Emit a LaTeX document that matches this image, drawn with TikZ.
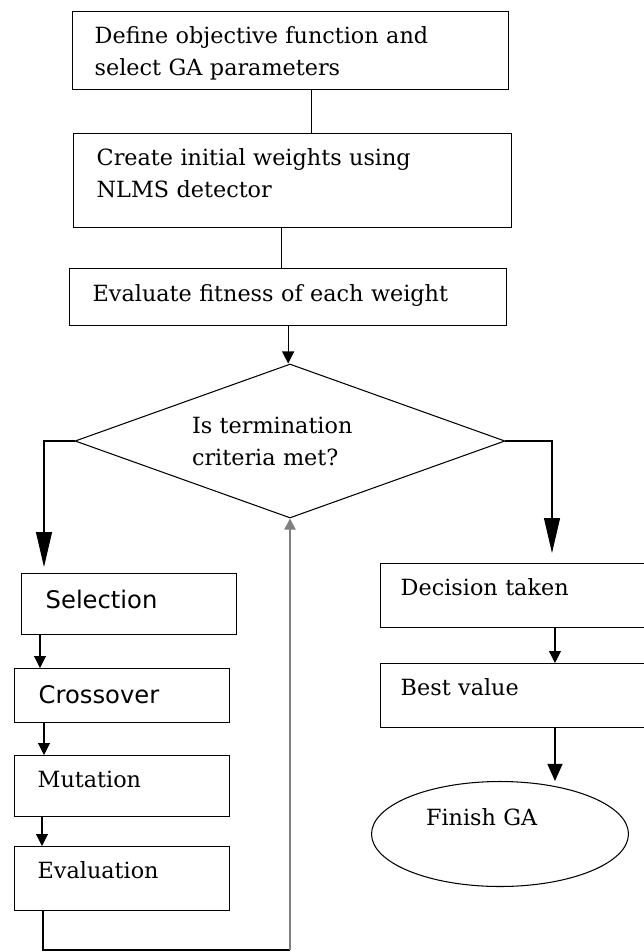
\documentclass[tikz,border=0pt]{standalone}
\usepackage{fontspec}
\setmainfont{DejaVu Serif}
\setsansfont{DejaVu Sans}
\usetikzlibrary{arrows.meta, shapes.geometric}

\begin{document}
\begin{tikzpicture}[x=0.02cm, y=-0.02cm]
	\tikzstyle{box}=[draw, line width=0.8pt, anchor=north west, inner ysep=0pt, align=left, font=\fontsize{12.7pt}{18.2pt}\selectfont]
	\tikzstyle{sbox}=[box, font=\sffamily\fontsize{13.8pt}{18pt}\selectfont]
	\tikzstyle{link}=[line width=0.6pt]
	\tikzstyle{arr}=[link, -{Triangle[length=2.4mm, width=2.4mm]}]
	\tikzstyle{bigarr}=[link, -{Triangle[length=7mm, width=3.2mm]}]
	\tikzstyle{endarr}=[link, -{Triangle[length=3.4mm, width=3mm]}]
	\tikzstyle{uparr}=[line width=1.2pt, gray, -{Triangle[length=2.2mm, width=2.2mm]}]
	\useasboundingbox (0,0) rectangle (643,952);

	\node[box, inner xsep=0.44cm, text width=7.84cm, text height=0.64cm, text depth=0.92cm] (obj) at (72,11) {Define objective function and\\select GA parameters};
	\node[box, inner xsep=0.46cm, text width=7.84cm, text height=0.64cm, text depth=1.24cm] (init) at (73,133) {Create initial weights using\\NLMS detector};
	\node[box, inner xsep=0.46cm, text width=7.82cm, text height=0.66cm, text depth=0.48cm] (fit) at (69,268) {Evaluate fitness of each weight};
	\node[draw, line width=0.6pt, diamond, aspect=2.8, inner sep=0pt, minimum width=8.6cm, minimum height=3.08cm, text width=3.92cm, align=left, font=\fontsize{12.7pt}{18.2pt}\selectfont] (term) at (290,441) {Is termination\\criteria met?};

	\node[sbox, inner xsep=0.48cm, text width=3.34cm, text height=0.7cm, text depth=0.52cm] (sel) at (21,573) {Selection};
	\node[sbox, inner xsep=0.48cm, text width=3.34cm, text height=0.7cm, text depth=0.38cm] (cross) at (14,668) {Crossover};
	\node[box, inner xsep=0.46cm, text width=3.38cm, text height=0.64cm, text depth=0.58cm] (mut) at (14,755) {Mutation};
	\node[box, inner xsep=0.46cm, text width=3.38cm, text height=0.64cm, text depth=0.64cm] (eval) at (14,846) {Evaluation};
	\coordinate (loop) at (290,950);

	\node[box, inner xsep=0.4cm, text width=4.6cm, text height=0.64cm, text depth=0.64cm] (dec) at (380,563) {Decision taken};
	\node[box, inner xsep=0.4cm, text width=4.6cm, text height=0.64cm, text depth=0.64cm] (best) at (380,663) {Best value};
	\node[draw, line width=0.6pt, ellipse, inner sep=0pt, minimum width=5.14cm, minimum height=2.1cm, text width=2.96cm, align=left, text height=0.3cm, text depth=0.66cm, font=\fontsize{12.7pt}{18.2pt}\selectfont] (fin) at (500,834) {Finish GA};

	\draw[link] ([xshift=0.42cm]obj.south) -- ([xshift=0.42cm]obj.south |- init.north);
	\draw[link] ([xshift=-0.22cm]init.south) -- ([xshift=-0.22cm]init.south |- fit.north);
	\draw[arr] (fit.south) -- (fit.south |- term.north);
	\draw[bigarr] (term.west) -| ([shift={(23,-6)}]sel.north west);
	\draw[bigarr] (term.east) -| ([shift={(172,-10)}]dec.north west);
	\draw[arr] ([xshift=0.38cm]sel.south west) -- ([xshift=0.38cm]sel.south west |- cross.north);
	\draw[arr] ([xshift=0.6cm]cross.south west) -- ([xshift=0.6cm]cross.south west |- mut.north);
	\draw[arr] ([xshift=0.56cm]mut.south west) -- ([xshift=0.56cm]mut.south west |- eval.north);
	\draw[link] ([xshift=0.58cm]eval.south west) |- (loop);
	\draw[uparr] (loop) -- (term.south);
	\draw[arr] ([xshift=3.5cm]dec.south west) -- ([xshift=3.5cm]dec.south west |- best.north);
	\draw[endarr] ([xshift=3.5cm]best.south west) -- ([xshift=3.5cm]best.south west |- fin.north);
\end{tikzpicture}
\end{document}
